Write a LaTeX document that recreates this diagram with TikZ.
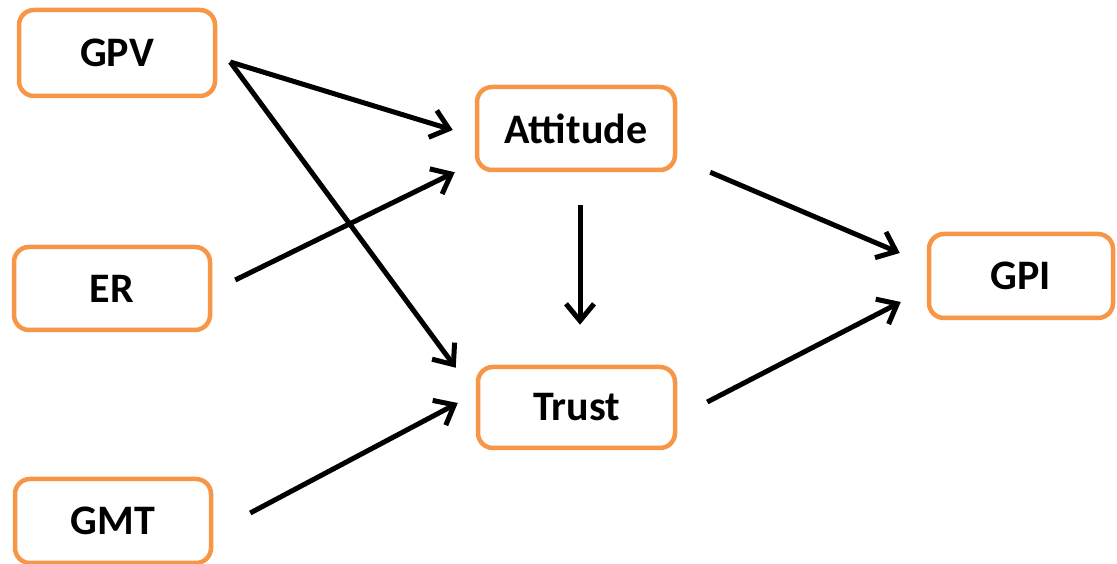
\documentclass[tikz,border=0pt]{standalone}
\usepackage{fontspec}
\setmainfont{Carlito}
\usetikzlibrary{arrows.meta}
\definecolor{boxorange}{HTML}{F79646}
\tikzset{
  factor/.style={draw=boxorange, line width=4.5pt, rounded corners=15pt, fill=white,
    font=\fontsize{42}{50}\selectfont\bfseries, inner sep=0pt},
  link/.style={line width=5pt, -{Straight Barb[length=17pt,width=28pt]}}
}
\begin{document}
\begin{tikzpicture}[x=1pt, y=1pt]
        \useasboundingbox (0,0) rectangle (1117,564);
        \node [factor, minimum width=196pt, minimum height=86pt] (gpv) at (117,511) {GPV};
        \node [factor, minimum width=196pt, minimum height=83pt] (er) at (112,275.5) {ER};
        \node [factor, minimum width=196pt, minimum height=84pt] (gmt) at (113,43) {GMT};
        \node [factor, minimum width=198pt, minimum height=83pt] (att) at (576,435.5) {Attitude};
        \node [factor, minimum width=197pt, minimum height=81pt] (trust) at (576.5,156.5) {Trust};
        \node [factor, minimum width=184pt, minimum height=84pt] (gpi) at (1021,288) {GPI};
        \draw [link] ([shift={(13,-9)}]gpv.east) -- ([shift={(-22,-1.5)}]att.west);
        \draw [link] ([shift={(13,-9)}]gpv.east) -- ([shift={(-20,-3)}]trust.north west);
        \draw [link] ([shift={(23,8.5)}]er.east) -- ([shift={(-20,0)}]att.south west);
        \draw [link] ([shift={(37,8)}]gmt.east) -- ([shift={(-18,4.5)}]trust.west);
        \draw [link] ([shift={(4,-33)}]att.south) -- ([shift={(3.5,40)}]trust.north);
        \draw [link] ([shift={(33,0)}]att.south east) -- ([shift={(-27,23)}]gpi.west);
        \draw [link] ([shift={(30,5.5)}]trust.east) -- ([shift={(-26,-26)}]gpi.west);
\end{tikzpicture}
\end{document}
